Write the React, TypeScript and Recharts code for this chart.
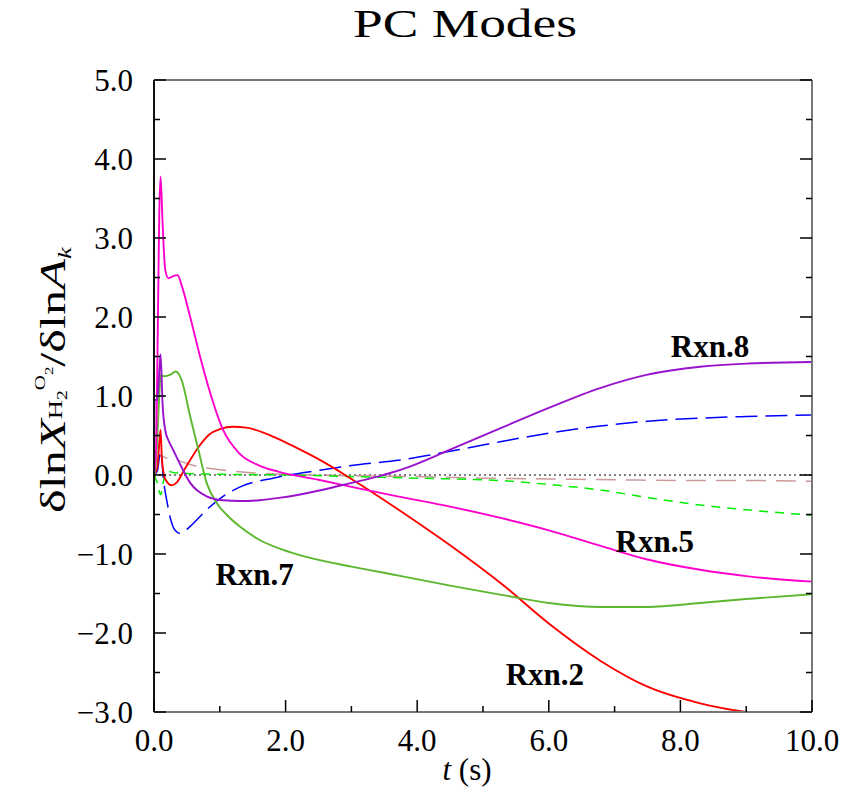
import React from 'react';
import { LineChart, Line, XAxis, YAxis, ReferenceDot } from 'recharts';

const SERIF = '"Liberation Serif", "Times New Roman", Times, serif';

// ---- axis ticks ----
const xTicks = [0, 1, 2, 3, 4, 5, 6, 7, 8, 9, 10];
const yTicks = [-3, -2.5, -2, -1.5, -1, -0.5, 0, 0.5, 1, 1.5, 2, 2.5, 3, 3.5, 4, 4.5, 5];

// ---- series: Rxn.5 (magenta) ----
const tRxn5 = [0, 0.03, 0.06, 0.08, 0.1, 0.13, 0.17, 0.22, 0.3, 0.36, 0.42, 0.55, 0.7, 0.85, 1.05, 1.3, 1.6, 1.9, 2.5, 3.0, 3.7, 4.5, 5.3, 6.0, 6.8, 7.5, 8.3, 9.0, 10];
const vRxn5 = [0, 0.3, 2.0, 3.3, 3.78, 3.2, 2.6, 2.49, 2.52, 2.53, 2.4, 2.0, 1.5, 1.05, 0.57, 0.27, 0.12, 0.04, -0.06, -0.15, -0.27, -0.4, -0.55, -0.7, -0.9, -1.07, -1.2, -1.28, -1.35];

// ---- series: Rxn.7 (green) ----
const tRxn7 = [0, 0.04, 0.08, 0.1, 0.15, 0.25, 0.33, 0.42, 0.55, 0.68, 0.8, 0.95, 1.1, 1.3, 1.6, 1.9, 2.2, 3.0, 3.7, 4.5, 5.3, 6.0, 6.8, 7.5, 8.3, 9.0, 10];
const vRxn7 = [-0.1, 0.3, 1.0, 1.27, 1.25, 1.27, 1.31, 1.2, 0.74, 0.3, -0.1, -0.35, -0.5, -0.65, -0.82, -0.93, -1.01, -1.16, -1.27, -1.4, -1.52, -1.62, -1.67, -1.67, -1.62, -1.57, -1.51];

// ---- series: Rxn.2 (red) ----
const tRxn2 = [0, 0.05, 0.08, 0.1, 0.12, 0.17, 0.27, 0.35, 0.45, 0.55, 0.7, 0.85, 1.0, 1.2, 1.4, 1.8, 2.2, 2.5, 3.0, 3.7, 4.5, 5.3, 6.0, 6.8, 7.5, 8.3, 9.0, 9.5, 10];
const vRxn2 = [0, 0.1, 0.4, 0.57, 0.2, -0.05, -0.13, -0.09, 0.05, 0.19, 0.38, 0.52, 0.58, 0.61, 0.6, 0.49, 0.33, 0.2, -0.05, -0.43, -0.89, -1.39, -1.88, -2.36, -2.68, -2.89, -3.0, -3.05, -3.1];

// ---- series: Rxn.8 (purple) ----
const tRxn8 = [0, 0.01, 0.05, 0.08, 0.1, 0.13, 0.17, 0.23, 0.29, 0.4, 0.55, 0.8, 1.05, 1.31, 1.6, 1.9, 2.2, 2.6, 3.0, 3.4, 3.8, 4.5, 5.26, 6.0, 6.78, 7.5, 8.3, 9.0, 10];
const vRxn8 = [0, 0.95, 0.95, 1.3, 1.53, 0.9, 0.57, 0.42, 0.32, 0.13, -0.1, -0.27, -0.32, -0.33, -0.32, -0.29, -0.25, -0.18, -0.1, -0.02, 0.08, 0.32, 0.59, 0.85, 1.1, 1.27, 1.37, 1.41, 1.43];

// ---- other reactions (dashed) ----
const tBlue = [0, 0.05, 0.1, 0.15, 0.2, 0.25, 0.32, 0.4, 0.55, 0.8, 1.05, 1.31, 1.81, 2.52, 3.0, 3.74, 4.5, 5.26, 6.0, 6.78, 7.5, 8.3, 9.0, 10];
const vBlue = [0, 0.05, 0.3, -0.1, -0.35, -0.55, -0.7, -0.74, -0.65, -0.44, -0.27, -0.15, -0.04, 0.06, 0.12, 0.19, 0.3, 0.42, 0.53, 0.62, 0.68, 0.72, 0.74, 0.76];

const tRosy = [0.05, 0.1, 0.17, 0.3, 0.6, 0.8, 1.3, 2.0, 3.0, 4.0, 5.0, 6.0, 7.0, 8.0, 9.0, 10];
const vRosy = [0.1, 0.25, 0.22, 0.2, 0.12, 0.09, 0.04, 0.01, -0.01, -0.02, -0.04, -0.05, -0.06, -0.07, -0.07, -0.08];

const tLime = [0, 0.05, 0.1, 0.15, 0.2, 0.3, 0.5, 1.0, 2.0, 3.0, 4.0, 5.26, 6.0, 6.78, 7.54, 8.3, 9.0, 10];
const vLime = [0, -0.1, -0.25, -0.05, 0.05, 0.03, 0.02, 0.01, 0.0, -0.02, -0.04, -0.07, -0.12, -0.19, -0.29, -0.38, -0.44, -0.51];

const tZero = [0, 10];
const vZero = [0, 0];

// ---- curve labels ----
const labelNames = ['Rxn.8', 'Rxn.5', 'Rxn.7', 'Rxn.2'];
const labelT = [8.45, 7.61, 1.53, 5.94];
const labelV = [1.62, -0.85, -1.27, -2.53];

const zip = (t: number[], v: number[]) => t.map((x, i) => ({ t: x, v: v[i] }));

const dRxn5 = zip(tRxn5, vRxn5);
const dRxn7 = zip(tRxn7, vRxn7);
const dRxn2 = zip(tRxn2, vRxn2);
const dRxn8 = zip(tRxn8, vRxn8);
const dBlue = zip(tBlue, vBlue);
const dRosy = zip(tRosy, vRosy);
const dLime = zip(tLime, vLime);
const dZero = zip(tZero, vZero);

const fmt = (v: number) => (v < 0 ? '\u2212' : '') + Math.abs(v).toFixed(1);
const isInt = (v: number) => Math.abs(v - Math.round(v)) < 1e-9;
const isEven = (v: number) => isInt(v) && Math.round(v) % 2 === 0;

const TICK_FONT = 31;
const AX = '#000';

const LeftTick = (p: any) => {
  const { x, y, payload } = p;
  const v = payload.value;
  const major = isInt(v);
  return (
    <g>
      <line x1={x} x2={x + (major ? 12 : 6)} y1={y} y2={y} stroke={AX} strokeWidth={1.5} />
      {major && (
        <text x={x - 21} y={y + 11} textAnchor="end" fontSize={TICK_FONT} fontFamily={SERIF} fill="#000">
          {fmt(v)}
        </text>
      )}
    </g>
  );
};

const RightTick = (p: any) => {
  const { x, y, payload } = p;
  const major = isInt(payload.value);
  return <line x1={x} x2={x - (major ? 12 : 6)} y1={y} y2={y} stroke={AX} strokeWidth={1.5} />;
};

const BottomTick = (p: any) => {
  const { x, y, payload } = p;
  const v = payload.value;
  const major = isEven(v);
  return (
    <g>
      <line x1={x} x2={x} y1={y} y2={y - (major ? 12 : 6)} stroke={AX} strokeWidth={1.5} />
      {major && (
        <text x={x} y={y + 39} textAnchor="middle" fontSize={TICK_FONT} fontFamily={SERIF} fill="#000">
          {v.toFixed(1)}
        </text>
      )}
    </g>
  );
};

const TopTick = (p: any) => {
  const { x, y, payload } = p;
  const major = isEven(payload.value);
  return <line x1={x} x2={x} y1={y} y2={y + (major ? 12 : 6)} stroke={AX} strokeWidth={1.5} />;
};

const renderCurveLabel = (name: string) => (props: any) => {
  const vb = props.viewBox || {};
  const cx = vb.x + (vb.width || 0) / 2;
  const cy = vb.y + (vb.height || 0) / 2;
  return (
    <text x={cx} y={cy + 10} textAnchor="middle" fontSize={31} fontWeight="bold" fontFamily={SERIF} fill="#000">
      {name}
    </text>
  );
};

export default function App() {
  return (
    <div style={{ position: 'absolute', left: 0, top: 0, width: 851, height: 801, background: '#fff' }}>
      <LineChart width={851} height={801} margin={{ top: 79, right: 38, bottom: 49, left: 94 }}>
        <XAxis
          xAxisId={0}
          type="number"
          dataKey="t"
          domain={[0, 10]}
          ticks={xTicks}
          interval={0}
          allowDataOverflow
          height={40}
          tickSize={0}
          tickMargin={0}
          tickLine={false}
          tick={(p: any) => <BottomTick {...p} />}
          axisLine={{ stroke: '#777', strokeWidth: 2 }}
        />
        <XAxis
          xAxisId="top"
          orientation="top"
          type="number"
          domain={[0, 10]}
          ticks={xTicks}
          interval={0}
          allowDataOverflow
          height={1}
          tickSize={0}
          tickMargin={0}
          tickLine={false}
          tick={(p: any) => <TopTick {...p} />}
          axisLine={{ stroke: '#777', strokeWidth: 2 }}
        />
        <YAxis
          yAxisId={0}
          type="number"
          domain={[-3, 5]}
          ticks={yTicks}
          interval={0}
          allowDataOverflow
          width={60}
          tickSize={0}
          tickMargin={0}
          tickLine={false}
          tick={(p: any) => <LeftTick {...p} />}
          axisLine={{ stroke: '#111', strokeWidth: 2 }}
        />
        <YAxis
          yAxisId="right"
          orientation="right"
          type="number"
          domain={[-3, 5]}
          ticks={yTicks}
          interval={0}
          allowDataOverflow
          width={1}
          tickSize={0}
          tickMargin={0}
          tickLine={false}
          tick={(p: any) => <RightTick {...p} />}
          axisLine={{ stroke: '#777', strokeWidth: 2 }}
        />

        <Line data={dZero} dataKey="v" stroke="#000" strokeWidth={1} strokeDasharray="2 3" dot={false} isAnimationActive={false} type="linear" />
        <Line data={dRosy} dataKey="v" stroke="#cc9a9a" strokeWidth={1.5} strokeDasharray="20 10" dot={false} isAnimationActive={false} type="monotone" />
        <Line data={dLime} dataKey="v" stroke="#00ee00" strokeWidth={1.5} strokeDasharray="9 7" dot={false} isAnimationActive={false} type="monotone" />
        <Line data={dBlue} dataKey="v" stroke="#0000ff" strokeWidth={1.5} strokeDasharray="22 8" dot={false} isAnimationActive={false} type="monotone" />
        <Line data={dRxn2} dataKey="v" stroke="#ff0000" strokeWidth={1.9} dot={false} isAnimationActive={false} type="monotone" />
        <Line data={dRxn7} dataKey="v" stroke="#5cb82e" strokeWidth={1.9} dot={false} isAnimationActive={false} type="monotone" />
        <Line data={dRxn5} dataKey="v" stroke="#ff00cc" strokeWidth={1.9} dot={false} isAnimationActive={false} type="monotone" />
        <Line data={dRxn8} dataKey="v" stroke="#9911cc" strokeWidth={1.9} dot={false} isAnimationActive={false} type="monotone" />

        {labelNames.map((n, i) => (
          <ReferenceDot
            key={n}
            x={labelT[i]}
            y={labelV[i]}
            r={0}
            fill="none"
            stroke="none"
            ifOverflow="visible"
            label={renderCurveLabel(n)}
          />
        ))}

        <text x={465} y={37} textAnchor="middle" fontSize={40} fontFamily={SERIF} fill="#000" textLength={224} lengthAdjust="spacingAndGlyphs">
          PC Modes
        </text>
        <text x={467} y={780} textAnchor="middle" fontSize={31} fontFamily={SERIF} fill="#000">
          <tspan fontStyle="italic">t</tspan> (s)
        </text>
        <g transform="translate(65,513) rotate(-90) scale(1.4,1)">
          <text x={0} y={0} fontSize={36} fontFamily={SERIF} fill="#000">
            δln<tspan fontStyle="italic">X</tspan>
            <tspan fontSize={19} dy={-3}>H</tspan>
            <tspan fontSize={14} dy={5}>2</tspan>
            <tspan fontSize={15} dy={-22}>O</tspan>
            <tspan fontSize={12} dy={8}>2</tspan>
            <tspan dy={12}>/δln</tspan>
            <tspan fontStyle="italic">A</tspan>
            <tspan fontSize={19} fontStyle="italic" dy={6}>k</tspan>
          </text>
        </g>
      </LineChart>
    </div>
  );
}
